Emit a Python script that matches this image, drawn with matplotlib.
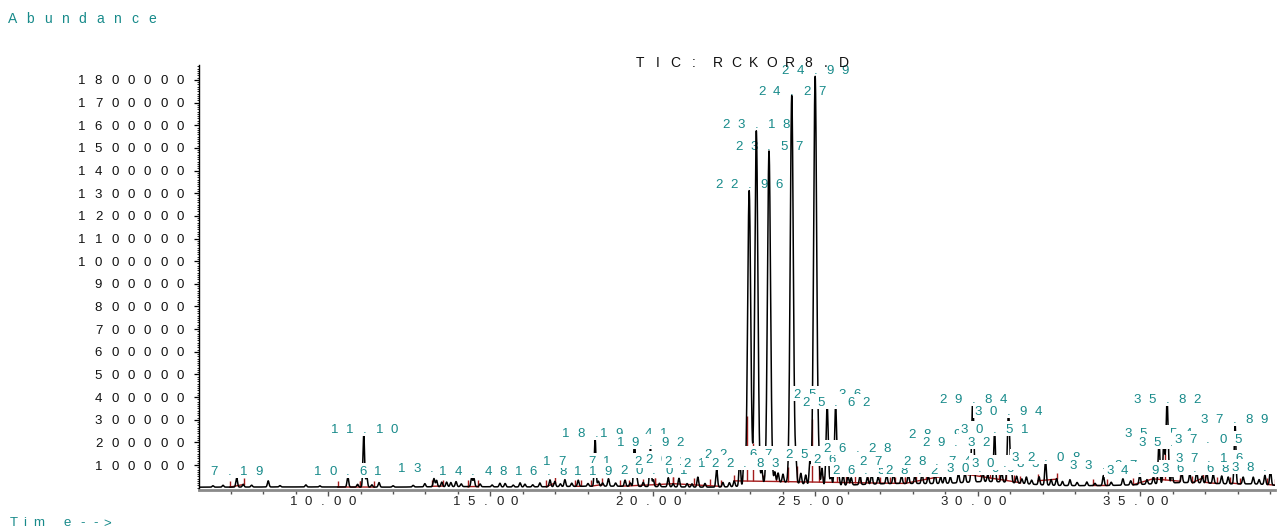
import matplotlib
matplotlib.use("Agg")
import matplotlib.pyplot as plt
import numpy as np
from matplotlib.patches import Rectangle
from matplotlib.transforms import Affine2D, ScaledTranslation

plt.rcParams["font.family"] = ["Liberation Sans", "DejaVu Sans"]

TEAL = "#178a8a"
RED = "#a31c1c"

# ---- peak table (retention time [min], abundance) ----
peak_rt = [6.46, 6.77, 7.19, 7.39, 7.65, 8.16, 8.52, 9.32, 9.75, 10.61, 10.91, 11.10,
           11.19, 11.35, 11.57, 12.00, 12.62, 12.98, 13.26, 13.34, 13.50, 13.65, 13.78,
           13.94, 14.10, 14.42, 14.49, 14.68, 15.05, 15.29, 15.45, 15.70, 15.91, 16.06,
           16.30, 16.52, 16.83, 16.98, 17.15, 17.29, 17.50, 17.70, 18.00, 18.22, 18.32,
           18.45, 18.63, 18.85, 19.14, 19.30, 19.43, 19.50, 19.70, 19.92, 20.01, 20.20,
           20.47, 20.62, 20.80, 21.05, 21.20, 21.38, 21.60, 21.96, 22.15, 22.35, 22.50,
           22.67, 22.80, 22.96, 23.18, 23.35, 23.57, 23.75, 23.85, 24.00, 24.27, 24.40,
           24.55, 24.70, 24.83, 24.99, 25.10, 25.20, 25.36, 25.48, 25.62, 25.72, 25.85,
           26.00, 26.10, 26.37, 26.60, 26.73, 26.93, 27.19, 27.40, 27.65, 27.86, 28.06,
           28.28, 28.47, 28.68, 28.85, 28.98, 29.15, 29.40, 29.60, 29.84, 30.15, 30.30,
           30.51, 30.73, 30.94, 31.02, 31.19, 31.35, 31.49, 31.65, 31.88, 32.08, 32.25,
           32.42, 32.60, 32.83, 33.05, 33.35, 33.60, 33.86, 34.10, 34.46, 34.70, 34.98,
           35.20, 35.40, 35.57, 35.72, 35.82, 35.97, 36.27, 36.52, 36.73, 36.90, 37.04,
           37.24, 37.50, 37.70, 37.91, 38.16, 38.47, 38.65, 38.83, 39.00]
peak_h = [6000, 8000, 41000, 12000, 8000, 27000, 6000, 9000, 5000, 46000, 12000, 236000,
          48000, 10000, 20000, 6000, 7000, 14000, 36000, 28000, 20000, 20000, 18000,
          22000, 12000, 38000, 36000, 12000, 8000, 16000, 15000, 8000, 18000, 12000,
          9000, 17000, 30000, 23000, 12000, 30000, 14000, 27000, 12000, 210000, 22000,
          14000, 33000, 14000, 27000, 15000, 215000, 40000, 18000, 180000, 30000, 15000,
          40000, 14000, 38000, 15000, 14000, 44000, 16000, 80000, 20000, 18000, 25000,
          120000, 115000, 1300000, 1560000, 60000, 1465000, 45000, 40000, 35000, 1710000, 90000,
          45000, 40000, 110000, 1805000, 85000, 75000, 355000, 45000, 355000, 40000, 48000,
          40000, 32000, 40000, 32000, 48000, 32000, 40000, 45000, 35000, 40000, 34000,
          45000, 35000, 48000, 30000, 34000, 28000, 43000, 45000, 365000, 45000, 30000,
          238000, 45000, 318000, 60000, 30000, 20000, 30000, 18000, 35000, 108000, 25000,
          30000, 18000, 26000, 14000, 16000, 10000, 44000, 14000, 28000, 18000, 42000,
          20000, 30000, 200000, 205000, 365000, 45000, 46000, 38000, 48000, 30000, 48000,
          40000, 34000, 30000, 277000, 30000, 30000, 20000, 40000, 66000]

# broad baseline drift (centre, abundance, width in min)
hump_rt = [9.0, 14.0, 18.5, 23.9, 27.5, 30.4, 33.0, 36.5, 38.6]
hump_h = [1500, 3000, 5000, 22000, 14000, 18000, 7000, 16000, 9000]
hump_w = [2.0, 1.0, 1.5, 0.7, 1.4, 0.9, 4.0, 1.1, 0.6]
base_level = 2000

# integration events: boundaries of each baseline segment
int_groups = [
    [6.98, 7.40], [10.30, 10.98], [10.98, 11.42], [13.20, 13.55], [14.30, 14.62],
    [16.72, 17.00], [17.60, 17.80], [18.10, 18.42], [19.00, 19.25, 19.70, 20.05],
    [20.05, 20.62], [20.62, 21.25, 21.75, 22.10],
    [22.50, 22.73, 22.88, 23.07, 23.38, 23.80, 24.15, 24.42, 24.90, 25.12, 25.24,
     25.50, 25.67, 25.95, 26.22, 26.37, 26.63, 26.98, 27.29, 27.45, 27.75],
    [27.75, 28.10, 28.40, 28.63, 28.78, 28.93, 29.09, 29.24, 29.40],
    [29.40, 29.70, 30.06, 30.37, 30.65, 30.85, 31.10, 31.30],
    [31.85, 32.43], [33.54, 33.97], [34.77, 35.38],
    [35.38, 35.50, 35.66, 35.76, 35.90, 36.22],
    [36.60, 36.92], [36.98, 37.35], [37.75, 38.06], [38.90, 39.14],
]

# peak labels as printed: text, position, level of the label baseline
label_text = ["7.19", "10.61", "11.10", "13.26", "14.48", "16.84", "17.71", "18.22",
              "18.63", "19.14", "19.41", "19.92", "20.01", "20.47", "20.80", "21.38",
              "21.96", "22.67", "22.83", "22.96", "23.18", "23.57", "24.27", "24.99",
              "25.08", "25.36", "25.62", "26.01", "26.28", "26.55", "27.38", "28.22",
              "28.74", "28.93", "29.32", "29.84", "30.06", "30.51", "30.83", "30.94",
              "32.08", "33.87", "34.98", "35.54", "35.82", "35.97", "36.68", "37.05",
              "37.16", "37.89", "38.86"]
label_rt = [7.19, 10.61, 11.12, 13.20, 14.46, 16.78, 17.66, 18.25,
            18.60, 19.08, 19.41, 19.92, 20.03, 20.47, 20.80, 21.38,
            21.96, 22.62, 22.83, 22.96, 23.18, 23.57, 24.27, 24.99,
            25.10, 25.36, 25.62, 25.97, 26.28, 26.55, 27.38, 28.20,
            28.74, 28.90, 29.32, 29.85, 30.06, 30.51, 30.83, 30.94,
            32.08, 33.85, 34.98, 35.54, 35.82, 35.97, 36.68, 37.07,
            37.10, 37.89, 38.83]
label_level = [56000, 56000, 241000, 69000, 56000, 56000, 100000, 224000,
               56000, 56000, 224000, 184000, 60000, 100000, 109000, 100000,
               91000, 131000, 91000, 1322000, 1588000, 1490000, 1732000, 1825000,
               131000, 396000, 361000, 109000, 158000, 60000, 100000, 60000,
               100000, 219000, 184000, 374000, 69000, 241000, 91000, 321000,
               118000, 83000, 60000, 224000, 374000, 184000, 69000, 197000,
               113000, 286000, 74000]

y_ticks = list(range(100000, 1900000, 100000))
x_ticks = [10, 15, 20, 25, 30, 35]
title = "TIC: RCKOR8.D"


def char_row(target, s, anchor, pitch, dx=0.0, dy=0.0, align="center",
             size=9, color="black", z=3, clip=False):
    # fixed-pitch lettering like the instrument printout
    adv = [pitch * (0.35 if c == " " else 1.0) for c in s]
    pos = [0.0]
    for a, b in zip(adv[:-1], adv[1:]):
        pos.append(pos[-1] + (a + b) / 2)
    pos = np.array(pos)
    if align == "center":
        pos -= (pos[0] + pos[-1]) / 2
    elif align == "right":
        pos -= pos[-1]
    for p, c in zip(pos, s):
        if c == " ":
            continue
        target.text(0, 0, c, transform=Affine2D().translate(dx + p, dy) + anchor,
                    ha="center", va="baseline", fontsize=size, color=color,
                    zorder=z, clip_on=clip)


# trace
t = np.arange(6.0, 39.25, 0.004)
y = np.full_like(t, float(base_level))
for rt, h in zip(peak_rt, peak_h):
    s = 0.047 if h >= 1e6 else (0.033 if h >= 3e5 else 0.025)
    y += h * np.exp(-0.5 * ((t - rt) / s) ** 2)
for rt, h, w in zip(hump_rt, hump_h, hump_w):
    y += h * np.exp(-0.5 * ((t - rt) / w) ** 2)

fig = plt.figure(figsize=(12.82, 5.30), dpi=100)
ax = fig.add_axes([198.5 / 1282, 40 / 530, 1076.5 / 1282, 425 / 530])
ax.set_xlim(6.015, 39.14)
ax.set_ylim(-10000, 1866000)

ax.plot(t, y, color="black", lw=1.1, zorder=2)

for g in int_groups:
    g = np.array(g)
    yb = np.interp(g, t, y)
    base = np.interp(g, [g[0], g[-1]], [yb[0], yb[-1]])
    ax.plot([g[0], g[-1]], [yb[0], yb[-1]], color=RED, lw=1, zorder=1.2)
    ax.vlines(g, base, np.maximum(yb, base + 28000), color=RED, lw=1, zorder=1.2)

# peak labels, later ones paint over earlier ones
for k, (txt, rt, lev) in enumerate(zip(label_text, label_rt, label_level)):
    big = lev >= 1e6
    z = 1.5 if big else 3 + 0.01 * k
    anchor = ScaledTranslation(rt, lev, ax.transData)
    w = (len(txt) - 1) * 15 + 12
    box = Rectangle((-w / 2, -3), w, 15, transform=Affine2D() + anchor,
                    fc="white", ec="none", zorder=z)
    ax.add_artist(box)
    char_row(ax, txt, anchor, 15, size=9.5, color=TEAL, z=z + 0.005, clip=True)

# axes styling
for side in ("top", "right"):
    ax.spines[side].set_visible(False)
ax.spines["left"].set_color("black")
ax.spines["left"].set_linewidth(1)
ax.spines["bottom"].set_color("#8a8a8a")
ax.spines["bottom"].set_linewidth(2)

ax.set_xticks(x_ticks)
ax.set_xticks(np.arange(7, 40, 1), minor=True)
ax.set_yticks(y_ticks)
ax.set_yticks(np.arange(0, 1860001, 10000), minor=True)
ax.tick_params(axis="x", which="major", length=4.5, width=1, color="#555555")
ax.tick_params(axis="x", which="minor", length=3, width=1, color="#555555")
ax.tick_params(axis="y", which="major", length=3.6, width=0.9, color="black")
ax.tick_params(axis="y", which="minor", length=1.5, width=0.6, color="black")
ax.tick_params(labelleft=False, labelbottom=False)

x0 = ax.get_xlim()[0]
y0 = ax.get_ylim()[0]
for v in y_ticks:
    char_row(ax, str(v), ScaledTranslation(x0, v, ax.transData), 16.3,
             dx=-18.5, dy=-4.5, align="right", size=9.5, color="#111111")
for v in x_ticks:
    char_row(ax, f"{v:.2f}", ScaledTranslation(v, y0, ax.transData), 14.5,
             dx=-5, dy=-15, size=9.5, color="#222222")

char_row(ax, title, ScaledTranslation(0.5, 1.0, ax.transAxes), 18.0,
         dx=5, dy=-2, size=10, color="#111111")

# axis captions (figure pixels from the lower left corner)
char_row(fig, "Abundance", Affine2D(), 17.4, dx=13, dy=530 - 22.7, align="left",
         size=10, color=TEAL)
for c, cx in zip("Time-->", [14, 25, 39, 67.5, 82.5, 96, 107.5]):
    fig.text(0, 0, c, transform=Affine2D().translate(cx, 3.5), ha="center",
             va="baseline", fontsize=9.5, color=TEAL)

fig.savefig("out.png", dpi=100, facecolor="white")
